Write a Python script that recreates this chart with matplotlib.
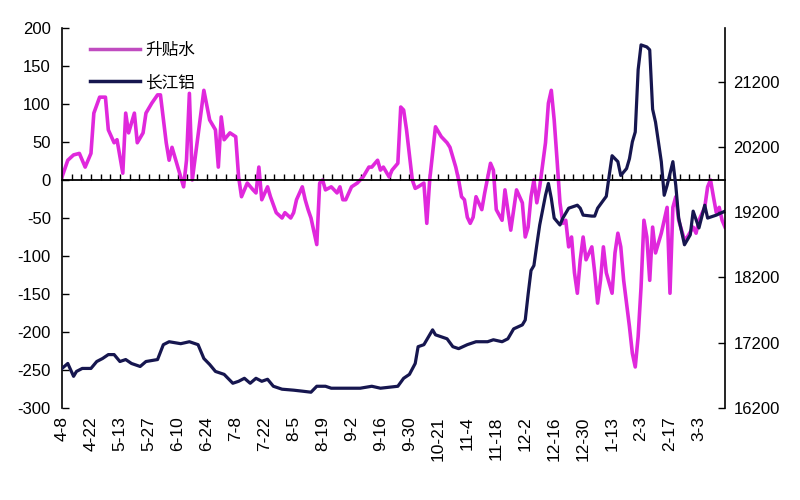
import numpy as np
import matplotlib
matplotlib.use("Agg")
import matplotlib.pyplot as plt
from matplotlib.lines import Line2D

plt.rcParams['font.family'] = ['Liberation Sans', 'DejaVu Sans']
plt.rcParams['axes.unicode_minus'] = False

# ---- data (trading-day index, value) ----
tick_labels = ["4-8", "4-22", "5-13", "5-27", "6-10", "6-24", "7-8", "7-22", "8-5", "8-19",
               "9-2", "9-16", "9-30", "10-21", "11-4", "11-18", "12-2", "12-16", "12-30",
               "1-13", "2-3", "2-17", "3-3"]

basis_day = [0, 2, 4, 6, 8, 10, 11, 13, 15, 16, 18, 19, 21, 22, 23, 25, 26, 28, 29, 31, 33, 34,
             36, 37, 38, 40, 42, 43, 44, 45, 49, 51, 53, 54, 55, 56, 58, 60, 61, 62, 64, 66, 67,
             68, 69, 71, 72, 74, 76, 77, 79, 80, 81, 83, 84, 85, 86, 88, 89, 90, 91, 93, 95, 96,
             97, 98, 100, 102, 104, 106, 107, 109, 110, 111, 113, 114, 116, 117, 118, 119, 121,
             122, 123, 125, 126, 127, 128, 129, 131, 133, 134, 136, 137, 138, 139, 140, 141, 142,
             143, 145, 146, 148, 149, 150, 152, 153, 154, 155, 157, 159, 160, 161, 162, 163, 164,
             165, 167, 168, 169, 170, 171, 172, 173, 174, 175, 176, 177, 178, 179, 180, 181, 183,
             184, 185, 186, 187, 188, 190, 191, 192, 193, 194, 195, 196, 197, 198, 199, 200, 201,
             202, 203, 204, 205, 207, 209, 210, 211, 212, 213, 215, 216, 218, 219, 220, 222, 223,
             224, 225, 226, 227, 228, 229]
basis_val = [4, 26, 33, 35, 17, 35, 88, 109, 109, 66, 49, 53, 9, 88, 62, 88, 49, 62, 88, 101, 112,
             112, 49, 26, 43, 17, -9, 26, 114, 0, 118, 79, 66, 17, 83, 53, 62, 57, 4, -22, -4, -13,
             -17, 17, -26, -9, -22, -43, -50, -43, -50, -43, -26, -9, -26, -39, -50, -85, -4, 0,
             -13, -9, -17, -9, -26, -26, -9, -4, 4, 17, 17, 26, 13, 17, 4, 13, 22, 96, 92, 66, 0,
             -11, -9, -4, -57, 0, 35, 70, 57, 49, 43, 17, 0, -22, -26, -49, -57, -49, -22, -39,
             -17, 22, 13, -39, -53, -13, -39, -66, -13, -30, -75, -62, -22, 0, -30, -9, 49, 101,
             118, 79, 26, -30, -57, -53, -88, -75, -122, -149, -105, -75, -105, -88, -122, -162,
             -132, -88, -122, -149, -96, -70, -88, -132, -162, -193, -228, -246, -206, -141, -53,
             -75, -132, -62, -96, -70, -36, -149, -36, -22, -53, -79, -75, -62, -70, -53, -36, -9,
             0, -22, -43, -36, -53, -62]

alu_day = [0, 2, 4, 5, 7, 10, 12, 14, 16, 18, 20, 22, 24, 27, 29, 33, 35, 37, 41, 44, 47, 49, 51,
           53, 56, 59, 61, 63, 65, 67, 69, 71, 73, 76, 80, 83, 86, 88, 91, 93, 98, 103, 107, 110,
           116, 118, 120, 122, 123, 125, 128, 129, 133, 135, 137, 140, 143, 147, 149, 152, 154,
           156, 159, 160, 161, 162, 163, 164, 165, 167, 168, 169, 170, 172, 173, 175, 178, 179,
           180, 183, 184, 185, 187, 188, 189, 190, 192, 193, 195, 196, 197, 198, 199, 200, 202,
           203, 204, 205, 207, 208, 209, 211, 212, 213, 215, 217, 218, 220, 222, 223, 226, 229]
alu_val = [16806, 16882, 16685, 16760, 16806, 16806, 16912, 16958, 17018, 17018, 16912, 16942,
           16882, 16836, 16912, 16942, 17170, 17215, 17185, 17215, 17170, 16958, 16867, 16760,
           16715, 16579, 16609, 16655, 16579, 16655, 16609, 16640, 16533, 16488, 16473, 16458,
           16442, 16533, 16533, 16503, 16503, 16503, 16533, 16503, 16533, 16655, 16715, 16882,
           17139, 17170, 17397, 17321, 17260, 17139, 17109, 17170, 17215, 17215, 17245, 17215,
           17260, 17412, 17473, 17548, 17942, 18306, 18382, 18700, 19003, 19458, 19639, 19412,
           19109, 19003, 19109, 19260, 19306, 19260, 19154, 19139, 19139, 19260, 19382, 19442,
           19761, 20064, 19973, 19761, 19867, 20018, 20276, 20427, 21382, 21761, 21730, 21685,
           20776, 20579, 19973, 19458, 19609, 19973, 19609, 19109, 18700, 18852, 19215, 18958,
           19306, 19109, 19154, 19215]

label_basis = "升贴水"
label_alu = "长江铝"

PINK = "#E028DC"
NAVY = "#16164F"

fig = plt.figure(figsize=(8, 5), dpi=100)
ax = fig.add_axes([62 / 800, 92 / 500, 663 / 800, 380 / 500])
ax2 = ax.twinx()

ax.plot(basis_day, basis_val, color=PINK, lw=2.6, solid_joinstyle='round')
ax2.plot(alu_day, alu_val, color=NAVY, lw=2.3, solid_joinstyle='round')

ax.set_xlim(0, 229)
ax.set_ylim(-300, 200)
ax.set_yticks(np.arange(-300, 201, 50))
ax2.set_ylim(16200, 22020)
ax2.set_yticks(np.arange(16200, 21201, 1000))

for a in (ax, ax2):
    a.spines['top'].set_visible(False)
    a.patch.set_visible(False)
ax2.spines['bottom'].set_visible(False)
ax2.spines['left'].set_visible(False)
ax.spines['right'].set_visible(False)
ax.spines['left'].set_linewidth(1.2)
ax2.spines['right'].set_linewidth(1.2)

# category axis crossing at zero
ax.spines['bottom'].set_position(('data', 0))
ax.spines['bottom'].set_linewidth(1.3)
ax.set_xticks(np.arange(0, 230, 10))
ax.set_xticks(np.arange(0, 229, 10 / 3), minor=True)
ax.tick_params(axis='x', which='both', direction='in', length=4, width=1.0,
               labelbottom=False)

ax.tick_params(axis='y', direction='in', length=5, width=1.0, labelsize=12, pad=8)
ax2.tick_params(axis='y', direction='in', length=5, width=1.0, labelsize=12, pad=6)

# labels at bottom
sec = ax.secondary_xaxis(0.0)
sec.set_xticks(np.arange(0, 230, 10))
sec.set_xticklabels(tick_labels, rotation=90, fontsize=12.5)
sec.tick_params(axis='x', length=0, pad=6)
sec.spines['bottom'].set_visible(False)

handles = [Line2D([], [], color="#C04CC0", lw=2.5), Line2D([], [], color=NAVY, lw=2.5)]
leg = ax2.legend(handles, [label_basis, label_alu], loc='upper left',
                 bbox_to_anchor=(0.03, 0.985), frameon=False, borderpad=0,
                 handlelength=3.0, handletextpad=0.3, labelspacing=0.9,
                 prop={'family': ['Noto Sans CJK SC', 'DejaVu Sans'], 'size': 12})

fig.savefig("out.png", dpi=100)
